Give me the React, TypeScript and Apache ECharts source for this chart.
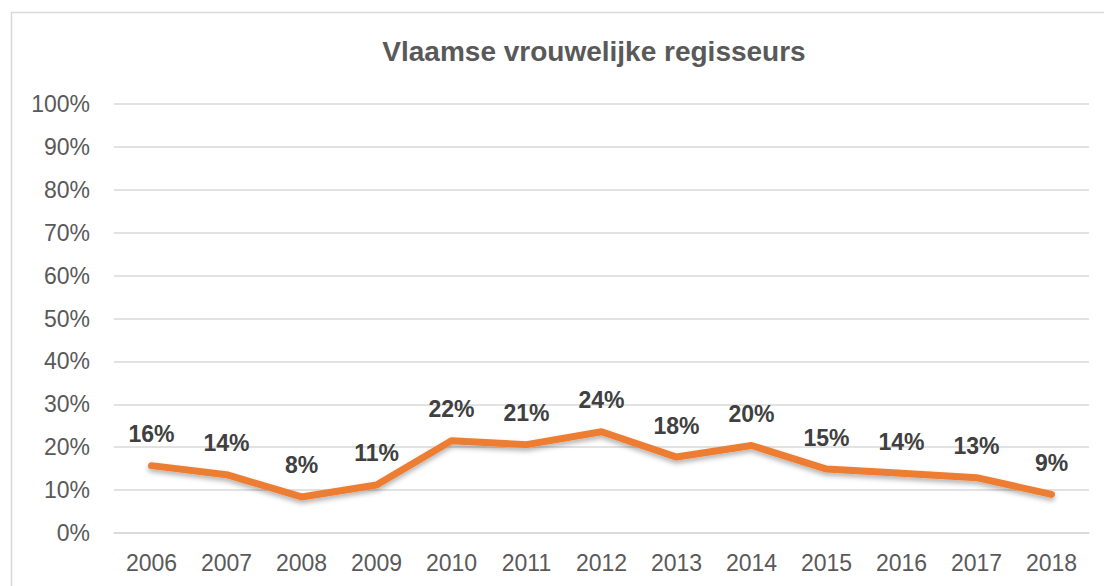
import React, { useEffect, useRef } from "react";
import * as echarts from "echarts";

const titleText = "Vlaamse vrouwelijke regisseurs";
const years = ["2006", "2007", "2008", "2009", "2010", "2011", "2012", "2013", "2014", "2015", "2016", "2017", "2018"];
const shares = [15.7, 13.6, 8.4, 11.2, 21.5, 20.6, 23.6, 17.7, 20.4, 14.9, 13.9, 12.9, 9.0];
const yTicks = { min: 0, max: 100, interval: 10 };

const FONT = "'Liberation Sans', Arial, Helvetica, sans-serif";

export default function App() {
  const ref = useRef<HTMLDivElement>(null);
  useEffect(() => {
    if (!ref.current) return;
    const chart = echarts.init(ref.current, null, { renderer: "svg" });
    chart.setOption({
      animation: false,
      backgroundColor: "#ffffff",
      textStyle: { fontFamily: FONT },
      title: {
        text: titleText,
        left: 589,
        top: 32,
        textAlign: "center",
        textStyle: { fontFamily: FONT, fontSize: 28, fontWeight: "bold", color: "#595959" },
      },
      graphic: [
        {
          type: "rect",
          shape: { x: 11.5, y: 12.5, width: 1200, height: 700 },
          style: { fill: "none", stroke: "#d9d9d9", lineWidth: 1.5 },
          silent: true,
          z: -1,
        },
      ],
      grid: { left: 114, right: 15, top: 104, bottom: 53, containLabel: false },
      xAxis: {
        type: "category",
        data: years,
        boundaryGap: true,
        axisLine: { show: true, lineStyle: { color: "#d9d9d9", width: 1.5 } },
        axisTick: { show: false },
        axisLabel: { color: "#595959", fontSize: 23, margin: 18, fontFamily: FONT },
      },
      yAxis: {
        type: "value",
        min: yTicks.min,
        max: yTicks.max,
        interval: yTicks.interval,
        axisLine: { show: false },
        axisTick: { show: false },
        splitLine: { lineStyle: { color: "#d9d9d9", width: 1.5 } },
        axisLabel: { color: "#595959", fontSize: 23, margin: 24, formatter: "{value}%", fontFamily: FONT },
      },
      series: [
        {
          type: "line",
          data: shares,
          symbol: "circle",
          symbolSize: 0.1,
          showSymbol: true,
          itemStyle: { color: "#ED7D31" },
          lineStyle: {
            color: "#ED7D31",
            width: 7,
            cap: "round",
            join: "round",
            shadowColor: "rgba(0,0,0,0.3)",
            shadowBlur: 5,
            shadowOffsetY: 3,
          },
          label: {
            show: true,
            position: "top",
            distance: 20,
            color: "#404040",
            fontSize: 23,
            fontWeight: "bold",
            fontFamily: FONT,
            formatter: (p: any) => Math.round(p.value) + "%",
          },
        },
      ],
    });
    return () => chart.dispose();
  }, []);
  return <div ref={ref} style={{ position: "fixed", left: 0, top: 0, width: 1104, height: 586 }} />;
}
